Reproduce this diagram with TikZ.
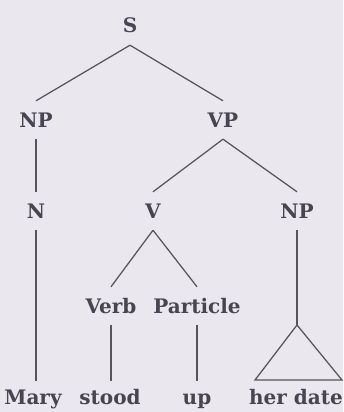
\documentclass[tikz,border=0pt]{standalone}
\usepackage{fontspec}
\setmainfont{DejaVu Serif}
\definecolor{paper}{RGB}{234,232,238}
\definecolor{ink}{RGB}{72,68,82}
\definecolor{branch}{RGB}{86,84,92}

\begin{document}
\begin{tikzpicture}[x=1pt,y=-1pt,
  cat/.style={anchor=base,inner xsep=2pt,inner ysep=12pt,text height=14pt,text depth=0pt,
    text=ink,font=\fontsize{20}{22}\selectfont\bfseries},
  word/.style={cat,inner ysep=9pt},
  edge/.style={line width=1.25pt,draw=branch}]
\fill[paper] (0,0) rectangle (343,412);
\useasboundingbox (0,0) rectangle (343,412);
% ---------- categories ----------
\node[cat] (S) at (130,33) {S};
\node[cat] (NPa) at (36,127) {NP};
\node[cat] (VP) at (223,127) {VP};
\node[cat] (N) at (36,218) {N};
\node[cat] (V) at (153,218) {V};
\node[cat] (NPb) at (297,218) {NP};
\node[cat] (Verb) at (111,313) {Verb};
\node[cat] (Part) at (197,313) {Particle};
% ---------- words ----------
\node[word] (Mary) at (33,404) {Mary};
\node[word] (stood) at (110,404) {stood};
\node[word] (up) at (197,404) {up};
\node[word] (date) at (296,404) {her date};
\coordinate (apex) at (297,325);
% ---------- branches ----------
\draw[edge] (S.south) -- (NPa.north);
\draw[edge] (S.south) -- (VP.north);
\draw[edge] (NPa.south) -- (N.north);
\draw[edge] (VP.south) -- (V.north);
\draw[edge] (VP.south) -- (NPb.north);
\draw[edge] (N.south) -- (N.south |- Mary.north);
\draw[edge] (V.south) -- (Verb.north);
\draw[edge] (V.south) -- (Part.north);
\draw[edge] (Verb.south) -- (Verb.south |- stood.north);
\draw[edge] (Part.south) -- (Part.south |- up.north);
\draw[edge] (NPb.south) -- (apex);
% unanalysed NP: triangle
\draw[edge] (apex) -- ++(-42,55) -- ++(87,0) -- cycle;
\end{tikzpicture}
\end{document}
